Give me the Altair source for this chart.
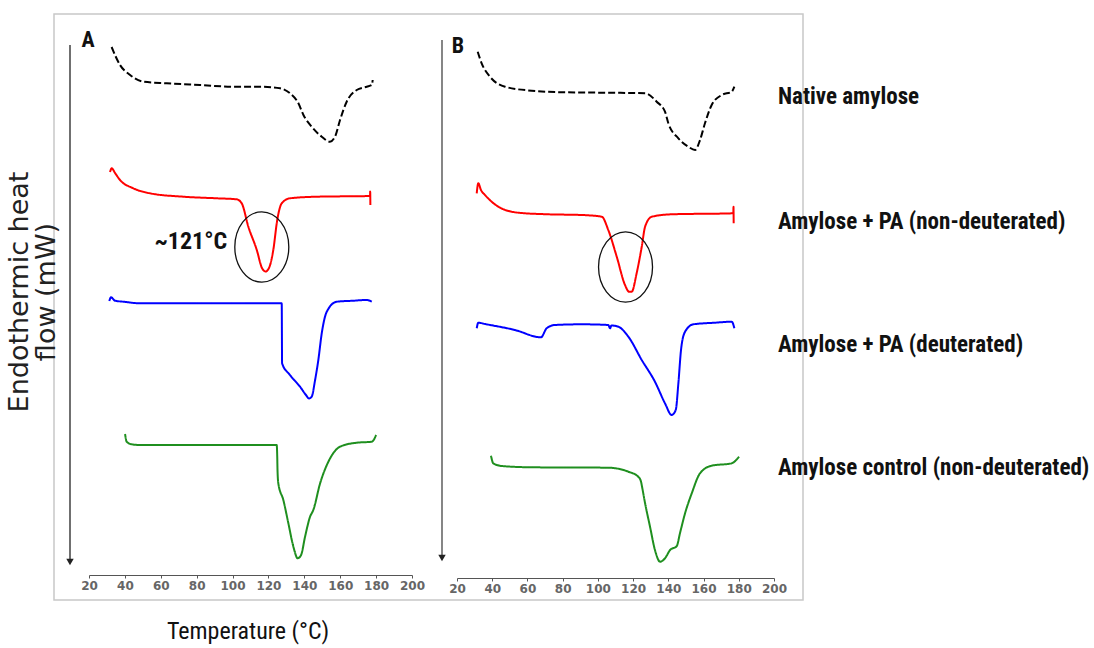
import altair as alt
import pandas as pd

# ---------------- data ----------------
CURVES = ["Native amylose", "Amylose + PA (non-deuterated)",
          "Amylose + PA (deuterated)", "Amylose control (non-deuterated)"]
COLORS = ["#000000", "#ff0000", "#0000ff", "#1f8f1f"]
DASHES = [[7, 3], [1, 0], [1, 0], [1, 0]]
TICKS = [20, 40, 60, 80, 100, 120, 140, 160, 180, 200]

# Panel A (temperature in degC, heat flow in arbitrary offset units)
A_native_T = [32.6, 37.3, 42.9, 50.3, 63.3, 81.9, 100.3, 115.3, 126.5, 132.0, 136.7, 139.5,
              144.1, 149.7, 154.3, 157.1, 159.9, 163.6, 169.2, 174.8, 177.6, 178.1]
A_native_hf = [55.3, 53.5, 52.5, 51.83, 51.67, 51.5, 51.33, 51.33, 51.17, 50.67, 49.67, 48.5,
               47.33, 46.33, 45.83, 46.33, 48.0, 49.83, 51.0, 51.33, 51.5, 52.0]

A_pa_T = [31.7, 32.7, 34.5, 37.3, 44.7, 54.0, 72.6, 91.2, 102.3, 105.1, 108.8, 113.5, 116.4,
          118.4, 120.3, 122.7, 124.9, 127.4, 132.0, 146.9, 176.6, 176.7, 176.8]
A_pa_hf = [42.8, 43.17, 42.7, 42.0, 41.17, 40.67, 40.33, 40.17, 40.07, 39.67, 37.33, 35.0, 33.2,
           32.85, 33.2, 35.0, 38.0, 39.67, 40.17, 40.33, 40.4, 40.85, 39.5]

A_pad_T = [31.3, 32.3, 34.5, 39.1, 48.4, 127.4, 127.6, 132.0, 137.6, 140.9, 142.6, 144.1, 146.0,
           147.8, 149.7, 152.5, 158.1, 167.3, 174.8, 177.6]
A_pad_hf = [29.9, 30.27, 29.93, 29.83, 29.67, 29.67, 23.67, 22.5, 21.33, 20.5, 20.15, 20.33, 22.0,
            24.0, 26.67, 28.83, 29.83, 29.93, 30.0, 29.83]

A_ctl_T = [40.1, 41.0, 43.8, 48.4, 124.6, 124.9, 125.05, 125.5, 128.3, 131.1, 133.9, 136.3, 138.2,
           140.4, 143.2, 145.0, 148.8, 153.4, 159.9, 169.2, 177.6, 180.0]
A_ctl_hf = [16.6, 15.83, 15.57, 15.5, 15.5, 14.33, 13.0, 11.67, 10.0, 7.67, 5.33, 4.17, 4.5,
            6.33, 8.33, 9.0, 11.67, 13.83, 15.33, 15.73, 15.83, 16.5]

# Panel B
B_native_T = [31.75, 34.0, 38.7, 47.3, 62.4, 81.3, 104.0, 126.8, 133.4, 138.1, 140.0, 145.7,
              151.3, 155.2, 158.0, 160.8, 164.6, 170.3, 176.0, 177.5]
B_native_hf = [54.83, 53.67, 52.33, 51.33, 50.93, 50.77, 50.73, 50.67, 49.83, 48.83, 47.67, 46.17,
               45.33, 45.0, 46.0, 47.67, 49.5, 50.5, 50.83, 51.33]

B_pa_T = [31.2, 32.1, 33.6, 35.9, 43.5, 54.8, 71.8, 90.8, 102.2, 105.9, 110.7, 115.4, 117.7,
          119.2, 122.0, 124.9, 126.8, 130.6, 141.9, 176.9, 177.0, 177.1]
B_pa_hf = [40.67, 41.67, 41.0, 40.5, 39.33, 38.73, 38.57, 38.5, 38.33, 37.0, 34.33, 31.5, 30.83,
           30.83, 32.67, 35.33, 37.33, 38.33, 38.57, 38.67, 39.33, 37.67]

B_pad_T = [31.2, 32.1, 35.9, 52.9, 67.7, 70.9, 75.6, 90.8, 105.9, 106.9, 107.7, 111.6, 117.3,
           124.9, 132.4, 138.1, 141.9, 144.2, 145.7, 147.2, 149.5, 154.2, 166.5, 176.0, 177.5]
B_pad_hf = [27.17, 27.73, 27.6, 27.0, 26.27, 27.17, 27.5, 27.57, 27.5, 27.17, 27.45, 27.33, 26.33,
            24.0, 21.83, 19.67, 18.5, 19.0, 21.67, 25.0, 26.83, 27.57, 27.73, 27.83, 27.17]

B_ctl_T = [39.3, 40.6, 45.4, 62.4, 105.9, 117.3, 122.9, 124.5, 125.1, 126.8, 129.6, 132.4, 135.3,
           138.1, 141.0, 144.8, 146.6, 149.5, 153.3, 158.0, 164.6, 176.0, 180.1]
B_ctl_hf = [14.43, 13.67, 13.4, 13.27, 13.23, 12.83, 12.33, 11.83, 11.3, 9.67, 7.33, 5.0, 3.83,
            4.17, 5.0, 5.4, 6.67, 8.67, 10.67, 12.67, 13.43, 13.67, 14.33]

# circled peaks (centre temperature, centre heat flow)
circle_A = (116.3, 35.3)
circle_B = (115.7, 33.3)
peak_note = "~121°C"
peak_note_pos = (97.0, 35.8)

# series labels on the right, at the baseline of each curve
label_hf = [50.3, 37.8, 25.5, 13.2]


def frame(pairs):
    rows = []
    for name, (ts, hs) in zip(CURVES, pairs):
        for i, (t, h) in enumerate(zip(ts, hs)):
            rows.append({"T": t, "hf": h, "curve": name, "i": i})
    return pd.DataFrame(rows)


dfA = frame([(A_native_T, A_native_hf), (A_pa_T, A_pa_hf), (A_pad_T, A_pad_hf), (A_ctl_T, A_ctl_hf)])
dfB = frame([(B_native_T, B_native_hf), (B_pa_T, B_pa_hf), (B_pad_T, B_pad_hf), (B_ctl_T, B_ctl_hf)])

# ---------------- scales / axes ----------------
NARROW = "Liberation Sans Narrow, Arial Narrow, Roboto Condensed, Liberation Sans"
xA = alt.Scale(domain=[20, 200], range=[89, 412], nice=False, zero=False)
xB = alt.Scale(domain=[20, 200], range=[457, 774], nice=False, zero=False)
yS = alt.Scale(domain=[0, 56], range=[600, 40], nice=False, zero=False)


def axis(offset):
    return alt.Axis(orient="bottom", offset=offset, values=TICKS, format="d", grid=False,
                    title=None, domainColor="#555555", domainWidth=1.2, tickColor="#555555",
                    tickSize=3, labelFont="DejaVu Sans", labelFontSize=12, labelFontWeight="bold",
                    labelColor="#666666", labelPadding=2, labelFlush=False)


axA = axis(-73)
axB = axis(-70)

color_enc = alt.Color("curve:N", scale=alt.Scale(domain=CURVES, range=COLORS), legend=None)
dash_enc = alt.StrokeDash("curve:N", scale=alt.Scale(domain=CURVES, range=DASHES), legend=None)


def panel(df, xs, ax, circ):
    lines = alt.Chart(df).mark_line(strokeWidth=2, interpolate="monotone").encode(
        x=alt.X("T:Q", scale=xs, axis=ax),
        y=alt.Y("hf:Q", scale=yS, axis=None),
        color=color_enc, strokeDash=dash_enc, order="i:Q")
    ell = alt.Chart(pd.DataFrame({"T": [circ[0]], "hf": [circ[1]]})).mark_point(
        shape="M0,-1.3C0.552,-1.3,1,-0.718,1,0C1,0.718,0.552,1.3,0,1.3C-0.552,1.3,-1,0.718,-1,0C-1,-0.718,-0.552,-1.3,0,-1.3Z",
        filled=False, color="#111111", strokeWidth=1.3, opacity=1, size=2916).encode(
        x=alt.X("T:Q", scale=xs, axis=ax), y=alt.Y("hf:Q", scale=yS, axis=None))
    return [lines, ell]


layers_A = panel(dfA, xA, axA, circle_A)
note = alt.Chart(pd.DataFrame({"T": [peak_note_pos[0]], "hf": [peak_note_pos[1]], "t": [peak_note]})).mark_text(
    font=NARROW, fontWeight="bold", fontSize=24, align="right", baseline="middle", color="#111111").encode(
    x=alt.X("T:Q", scale=xA, axis=axA), y=alt.Y("hf:Q", scale=yS, axis=None), text="t:N")
panelA = alt.layer(*layers_A, note)
panelB = alt.layer(*panel(dfB, xB, axB, circle_B))

one = pd.DataFrame({"k": [0]})

box = alt.Chart(one).mark_rect(fill="transparent", stroke="#c8c8c8", strokeWidth=1.5).encode(
    x=alt.value(54), x2=alt.value(803), y=alt.value(14), y2=alt.value(600))

arrowA = alt.Chart(one).mark_rule(color="#222222", strokeWidth=1.3).encode(
    x=alt.value(70), y=alt.value(45), y2=alt.value(560))
headA = alt.Chart(one).mark_point(shape="triangle-down", filled=True, size=55, color="#222222", opacity=1).encode(
    x=alt.value(70), y=alt.value(562))
arrowB = alt.Chart(one).mark_rule(color="#444444", strokeWidth=1.3).encode(
    x=alt.value(442), y=alt.value(40), y2=alt.value(556))
headB = alt.Chart(one).mark_point(shape="triangle-down", filled=True, size=55, color="#222222", opacity=1).encode(
    x=alt.value(442), y=alt.value(558))


def txt(s, x, y, **kw):
    return alt.Chart(pd.DataFrame({"t": [s]})).mark_text(**kw).encode(
        text="t:N", x=alt.value(x), y=alt.value(y))


tA = txt("A", 88, 40, font=NARROW, fontWeight="bold", fontSize=22, color="#111111")
tB = txt("B", 458, 46, font=NARROW, fontWeight="bold", fontSize=22, color="#111111")
ytitle1 = txt("Endothermic heat", 20, 292, font="DejaVu Sans", fontSize=27, angle=270,
              color="#222222", align="center", baseline="middle")
ytitle2 = txt("flow (mW)", 47, 292, font="DejaVu Sans", fontSize=27, angle=270,
              color="#222222", align="center", baseline="middle")
xtitle = txt("Temperature (°C)", 248, 632, font=NARROW, fontSize=24, color="#111111",
             align="center", baseline="middle")

labels = alt.Chart(pd.DataFrame({"curve": CURVES, "hf": label_hf})).mark_text(
    font=NARROW, fontWeight="bold", fontSize=23, align="left", baseline="middle", color="#111111").encode(
    x=alt.value(778), y=alt.Y("hf:Q", scale=yS, axis=None), text="curve:N")

chart = alt.layer(
    box, arrowA, headA, arrowB, headB, panelA, panelB, labels, tA, tB, ytitle1, ytitle2, xtitle
).resolve_scale(x="independent").properties(
    width=1094, height=648, padding=0, autosize=alt.AutoSizeParams(type="none"), background="white"
).configure_view(stroke=None)

chart.save("out.html", embed_options={"renderer": "svg", "actions": False})
